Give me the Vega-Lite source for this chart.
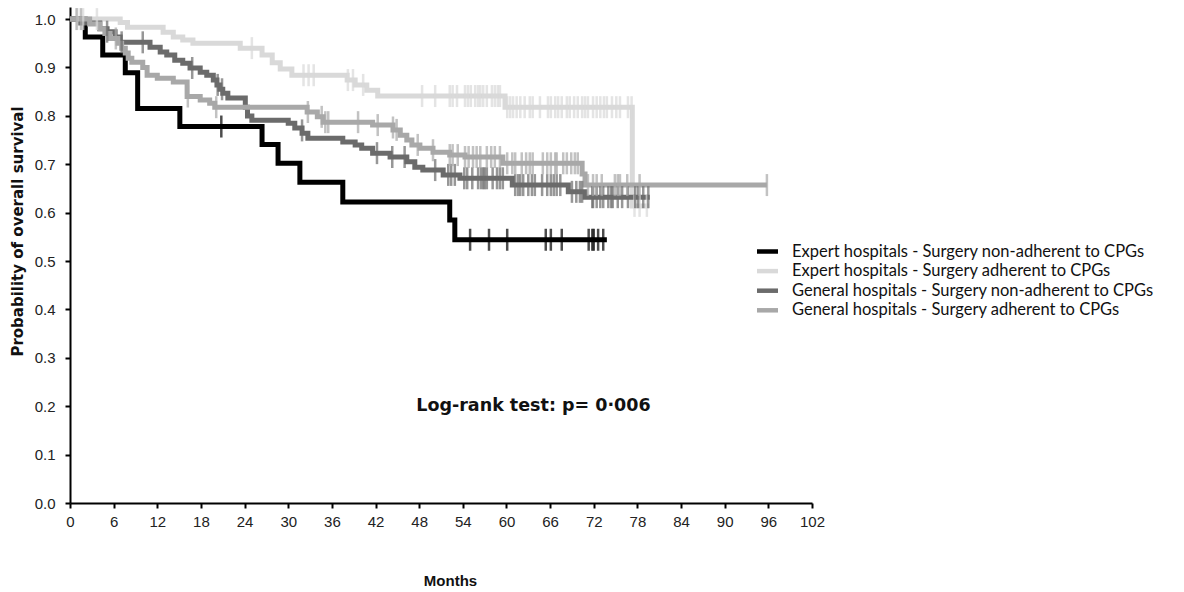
{
  "$schema": "https://vega.github.io/schema/vega-lite/v6.json",
  "width": 742,
  "height": 496,
  "autosize": "none",
  "padding": {"left": 70, "top": 7, "right": 372, "bottom": 89},
  "background": "white",
  "datasets": {
    "curves": [
      {"g":"A","t":0,"s":1},{"g":"A","t":2.1,"s":0.963},{"g":"A","t":4.5,"s":0.926},{"g":"A","t":7.6,"s":0.889},{"g":"A","t":9.3,"s":0.815},{"g":"A","t":15.1,"s":0.778},{"g":"A","t":26.4,"s":0.741},{"g":"A","t":28.6,"s":0.702},{"g":"A","t":31.6,"s":0.663},{"g":"A","t":37.5,"s":0.622},{"g":"A","t":52.2,"s":0.585},{"g":"A","t":52.9,"s":0.544},{"g":"A","t":73.8,"s":0.544},
      {"g":"B","t":0,"s":1},{"g":"B","t":6.9,"s":0.993},{"g":"B","t":7.9,"s":0.983},{"g":"B","t":12.8,"s":0.973},{"g":"B","t":14.2,"s":0.963},{"g":"B","t":15.5,"s":0.957},{"g":"B","t":16.9,"s":0.95},{"g":"B","t":23.4,"s":0.94},{"g":"B","t":26.4,"s":0.926},{"g":"B","t":27.8,"s":0.91},{"g":"B","t":28.9,"s":0.897},{"g":"B","t":30.5,"s":0.884},{"g":"B","t":38.1,"s":0.874},{"g":"B","t":39.2,"s":0.864},{"g":"B","t":40.8,"s":0.853},{"g":"B","t":42.3,"s":0.841},{"g":"B","t":59.8,"s":0.818},{"g":"B","t":77.3,"s":0.614},{"g":"B","t":79.6,"s":0.614},
      {"g":"C","t":0,"s":1},{"g":"C","t":1.4,"s":0.992},{"g":"C","t":4.1,"s":0.98},{"g":"C","t":5.1,"s":0.974},{"g":"C","t":6.2,"s":0.963},{"g":"C","t":6.9,"s":0.952},{"g":"C","t":11.0,"s":0.942},{"g":"C","t":12.4,"s":0.932},{"g":"C","t":13.3,"s":0.926},{"g":"C","t":14.4,"s":0.915},{"g":"C","t":15.5,"s":0.909},{"g":"C","t":16.5,"s":0.899},{"g":"C","t":17.9,"s":0.89},{"g":"C","t":18.8,"s":0.884},{"g":"C","t":19.7,"s":0.874},{"g":"C","t":20.2,"s":0.864},{"g":"C","t":20.6,"s":0.855},{"g":"C","t":21.0,"s":0.847},{"g":"C","t":21.7,"s":0.837},{"g":"C","t":24.1,"s":0.818},{"g":"C","t":24.4,"s":0.8},{"g":"C","t":25.0,"s":0.791},{"g":"C","t":30.0,"s":0.785},{"g":"C","t":30.9,"s":0.775},{"g":"C","t":31.9,"s":0.764},{"g":"C","t":32.7,"s":0.754},{"g":"C","t":37.5,"s":0.746},{"g":"C","t":39.2,"s":0.74},{"g":"C","t":40.1,"s":0.733},{"g":"C","t":41.6,"s":0.723},{"g":"C","t":44.0,"s":0.715},{"g":"C","t":46.3,"s":0.705},{"g":"C","t":47.4,"s":0.694},{"g":"C","t":48.5,"s":0.688},{"g":"C","t":51.3,"s":0.678},{"g":"C","t":53.6,"s":0.671},{"g":"C","t":60.8,"s":0.657},{"g":"C","t":68.5,"s":0.643},{"g":"C","t":70.8,"s":0.632},{"g":"C","t":79.7,"s":0.632},
      {"g":"D","t":0,"s":1},{"g":"D","t":2.7,"s":0.99},{"g":"D","t":4.1,"s":0.98},{"g":"D","t":4.8,"s":0.97},{"g":"D","t":5.5,"s":0.96},{"g":"D","t":6.6,"s":0.95},{"g":"D","t":7.1,"s":0.94},{"g":"D","t":7.6,"s":0.93},{"g":"D","t":8.0,"s":0.919},{"g":"D","t":8.5,"s":0.911},{"g":"D","t":10.0,"s":0.9},{"g":"D","t":10.6,"s":0.884},{"g":"D","t":12.0,"s":0.878},{"g":"D","t":14.2,"s":0.87},{"g":"D","t":16.1,"s":0.84},{"g":"D","t":17.9,"s":0.833},{"g":"D","t":19.2,"s":0.826},{"g":"D","t":19.9,"s":0.818},{"g":"D","t":32.6,"s":0.808},{"g":"D","t":34.0,"s":0.798},{"g":"D","t":34.8,"s":0.787},{"g":"D","t":41.6,"s":0.781},{"g":"D","t":44.4,"s":0.771},{"g":"D","t":45.4,"s":0.76},{"g":"D","t":46.3,"s":0.75},{"g":"D","t":47.0,"s":0.74},{"g":"D","t":48.1,"s":0.733},{"g":"D","t":49.9,"s":0.725},{"g":"D","t":52.2,"s":0.719},{"g":"D","t":54.3,"s":0.715},{"g":"D","t":59.5,"s":0.702},{"g":"D","t":70.4,"s":0.68},{"g":"D","t":70.8,"s":0.657},{"g":"D","t":95.8,"s":0.657}
    ],
    "censors": [
      {"g":"A","t":20.8,"s":0.778},{"g":"A","t":55.0,"s":0.544},{"g":"A","t":57.6,"s":0.544},{"g":"A","t":60.1,"s":0.544},{"g":"A","t":65.4,"s":0.544},{"g":"A","t":66.1,"s":0.544},{"g":"A","t":67.6,"s":0.544},{"g":"A","t":71.3,"s":0.544},{"g":"A","t":71.8,"s":0.544},{"g":"A","t":72.0,"s":0.544},{"g":"A","t":72.6,"s":0.544},{"g":"A","t":73.3,"s":0.544},
      {"g":"B","t":1.0,"s":1},{"g":"B","t":1.8,"s":1},{"g":"B","t":3.7,"s":1},{"g":"B","t":25.0,"s":0.94},{"g":"B","t":32.1,"s":0.884},{"g":"B","t":32.8,"s":0.884},{"g":"B","t":33.5,"s":0.884},{"g":"B","t":38.2,"s":0.874},{"g":"B","t":38.9,"s":0.874},{"g":"B","t":40.3,"s":0.864},
      {"g":"B","t":48.4,"s":0.841},{"g":"B","t":50.2,"s":0.841},{"g":"B","t":52.2,"s":0.841},{"g":"B","t":52.6,"s":0.841},{"g":"B","t":53.2,"s":0.841},{"g":"B","t":54.3,"s":0.841},{"g":"B","t":54.7,"s":0.841},{"g":"B","t":55.1,"s":0.841},{"g":"B","t":55.7,"s":0.841},{"g":"B","t":56.1,"s":0.841},{"g":"B","t":56.4,"s":0.841},{"g":"B","t":56.8,"s":0.841},{"g":"B","t":57.3,"s":0.841},{"g":"B","t":58.0,"s":0.841},{"g":"B","t":58.4,"s":0.841},{"g":"B","t":58.8,"s":0.841},{"g":"B","t":59.1,"s":0.841},
      {"g":"B","t":60.1,"s":0.818},{"g":"B","t":60.5,"s":0.818},{"g":"B","t":60.9,"s":0.818},{"g":"B","t":61.4,"s":0.818},{"g":"B","t":61.9,"s":0.818},{"g":"B","t":62.5,"s":0.818},{"g":"B","t":63.2,"s":0.818},{"g":"B","t":63.6,"s":0.818},{"g":"B","t":64.6,"s":0.818},{"g":"B","t":65.7,"s":0.818},{"g":"B","t":66.1,"s":0.818},{"g":"B","t":66.7,"s":0.818},{"g":"B","t":67.1,"s":0.818},{"g":"B","t":67.6,"s":0.818},{"g":"B","t":68.3,"s":0.818},{"g":"B","t":68.7,"s":0.818},{"g":"B","t":69.3,"s":0.818},{"g":"B","t":69.8,"s":0.818},{"g":"B","t":70.4,"s":0.818},{"g":"B","t":70.8,"s":0.818},{"g":"B","t":71.2,"s":0.818},{"g":"B","t":71.9,"s":0.818},{"g":"B","t":72.4,"s":0.818},{"g":"B","t":72.9,"s":0.818},{"g":"B","t":73.4,"s":0.818},{"g":"B","t":73.8,"s":0.818},{"g":"B","t":74.5,"s":0.818},{"g":"B","t":75.1,"s":0.818},{"g":"B","t":75.6,"s":0.818},{"g":"B","t":76.7,"s":0.818},{"g":"B","t":77.2,"s":0.818},{"g":"B","t":77.6,"s":0.614},{"g":"B","t":78.3,"s":0.614},{"g":"B","t":79.3,"s":0.614},
      {"g":"C","t":5.1,"s":0.974},{"g":"C","t":7.1,"s":0.952},{"g":"C","t":10.0,"s":0.952},{"g":"C","t":16.8,"s":0.899},{"g":"C","t":20.3,"s":0.864},{"g":"C","t":20.9,"s":0.855},{"g":"C","t":31.9,"s":0.77},{"g":"C","t":42.2,"s":0.723},{"g":"C","t":44.3,"s":0.715},{"g":"C","t":46.0,"s":0.715},{"g":"C","t":50.2,"s":0.688},{"g":"C","t":52.0,"s":0.678},{"g":"C","t":52.4,"s":0.678},{"g":"C","t":52.9,"s":0.678},
      {"g":"C","t":54.2,"s":0.671},{"g":"C","t":54.6,"s":0.671},{"g":"C","t":55.3,"s":0.671},{"g":"C","t":56.1,"s":0.671},{"g":"C","t":56.5,"s":0.671},{"g":"C","t":56.8,"s":0.671},{"g":"C","t":57.0,"s":0.671},{"g":"C","t":57.3,"s":0.671},{"g":"C","t":58.1,"s":0.671},{"g":"C","t":58.7,"s":0.671},{"g":"C","t":59.1,"s":0.671},{"g":"C","t":59.5,"s":0.671},
      {"g":"C","t":61.2,"s":0.657},{"g":"C","t":61.6,"s":0.657},{"g":"C","t":61.9,"s":0.657},{"g":"C","t":62.3,"s":0.657},{"g":"C","t":63.0,"s":0.657},{"g":"C","t":63.5,"s":0.657},{"g":"C","t":63.9,"s":0.657},{"g":"C","t":64.9,"s":0.657},{"g":"C","t":65.6,"s":0.657},{"g":"C","t":66.1,"s":0.657},{"g":"C","t":66.5,"s":0.657},{"g":"C","t":66.9,"s":0.657},{"g":"C","t":67.4,"s":0.657},
      {"g":"C","t":69.0,"s":0.643},{"g":"C","t":69.6,"s":0.643},{"g":"C","t":70.1,"s":0.643},{"g":"C","t":70.4,"s":0.643},
      {"g":"C","t":71.8,"s":0.632},{"g":"C","t":71.9,"s":0.632},{"g":"C","t":72.4,"s":0.632},{"g":"C","t":72.9,"s":0.632},{"g":"C","t":73.3,"s":0.632},{"g":"C","t":74.0,"s":0.632},{"g":"C","t":74.4,"s":0.632},{"g":"C","t":74.6,"s":0.632},{"g":"C","t":75.3,"s":0.632},{"g":"C","t":75.9,"s":0.632},{"g":"C","t":76.7,"s":0.632},{"g":"C","t":77.7,"s":0.632},{"g":"C","t":78.1,"s":0.632},{"g":"C","t":78.8,"s":0.632},{"g":"C","t":79.5,"s":0.632},
      {"g":"D","t":0.9,"s":1},{"g":"D","t":1.5,"s":1},{"g":"D","t":6.3,"s":0.96},{"g":"D","t":16.2,"s":0.84},{"g":"D","t":20.1,"s":0.818},{"g":"D","t":32.7,"s":0.808},{"g":"D","t":34.6,"s":0.798},{"g":"D","t":35.1,"s":0.787},{"g":"D","t":35.5,"s":0.787},{"g":"D","t":39.6,"s":0.787},{"g":"D","t":42.3,"s":0.781},{"g":"D","t":44.4,"s":0.776},{"g":"D","t":44.9,"s":0.771},{"g":"D","t":47.8,"s":0.74},{"g":"D","t":49.9,"s":0.729},{"g":"D","t":52.2,"s":0.719},{"g":"D","t":52.6,"s":0.719},{"g":"D","t":53.3,"s":0.719},
      {"g":"D","t":54.3,"s":0.715},{"g":"D","t":54.8,"s":0.715},{"g":"D","t":55.4,"s":0.715},{"g":"D","t":55.9,"s":0.715},{"g":"D","t":56.4,"s":0.715},{"g":"D","t":57.3,"s":0.715},{"g":"D","t":57.9,"s":0.715},{"g":"D","t":58.4,"s":0.715},{"g":"D","t":59.1,"s":0.715},
      {"g":"D","t":60.1,"s":0.702},{"g":"D","t":60.8,"s":0.702},{"g":"D","t":61.2,"s":0.702},{"g":"D","t":62.1,"s":0.702},{"g":"D","t":62.7,"s":0.702},{"g":"D","t":63.2,"s":0.702},{"g":"D","t":63.6,"s":0.702},{"g":"D","t":65.0,"s":0.702},{"g":"D","t":65.6,"s":0.702},{"g":"D","t":66.1,"s":0.702},{"g":"D","t":66.7,"s":0.702},{"g":"D","t":66.9,"s":0.702},{"g":"D","t":67.8,"s":0.702},{"g":"D","t":68.3,"s":0.702},{"g":"D","t":68.9,"s":0.702},{"g":"D","t":69.4,"s":0.702},{"g":"D","t":69.8,"s":0.702},
      {"g":"D","t":71.2,"s":0.657},{"g":"D","t":71.9,"s":0.657},{"g":"D","t":72.4,"s":0.657},{"g":"D","t":73.1,"s":0.657},{"g":"D","t":74.9,"s":0.657},{"g":"D","t":75.3,"s":0.657},{"g":"D","t":75.6,"s":0.657},{"g":"D","t":76.6,"s":0.657},{"g":"D","t":78.3,"s":0.657},{"g":"D","t":95.8,"s":0.657}
    ]
  },
  "layer": [
    {
      "data": {"name": "curves"},
      "mark": {"type": "line", "interpolate": "step-after", "strokeWidth": 5, "strokeCap": "butt"},
      "encoding": {
        "x": {"field": "t", "type": "quantitative", "scale": {"domain": [0, 102], "nice": false, "zero": false},
          "axis": {"values": [0,6,12,18,24,30,36,42,48,54,60,66,72,78,84,90,96,102], "labelFlush": false, "labelOverlap": false, "title": "Months", "titlePadding": 44, "labelPadding": 6, "titleFontSize": 15, "titleFont": "Liberation Sans", "titleX": 380}},
        "y": {"field": "s", "type": "quantitative", "scale": {"domain": [0, 1.025], "nice": false},
          "axis": {"values": [0,0.1,0.2,0.3,0.4,0.5,0.6,0.7,0.8,0.9,1.0], "format": ".1f", "labelFlush": false, "labelOverlap": false, "title": "Probability of overall survival", "titlePadding": 9, "labelPadding": 10, "titleFont": "DejaVu Sans", "titleFontSize": 15, "titleY": 224}},
        "color": {"field": "g", "type": "nominal",
          "scale": {"domain": ["A","B","C","D"], "range": ["#000000","#d9d9d9","#6b6b6b","#a8a8a8"]},
          "legend": {
            "title": null, "orient": "none", "legendX": 689, "legendY": 236, "padding": 0,
            "symbolType": "M-1.75,0H1.75", "symbolSize": 144, "symbolStrokeWidth": 4.5,
            "labelFont": "Lato", "labelFontSize": 16.5, "labelColor": "#111", "labelOffset": 16, "rowPadding": 0.6,
            "labelLimit": 600,
            "labelExpr": "{'A':'Expert hospitals - Surgery non-adherent to CPGs','B':'Expert hospitals - Surgery adherent to CPGs','C':'General hospitals - Surgery non-adherent to CPGs','D':'General hospitals - Surgery adherent to CPGs'}[datum.label]"
          }}
      }
    },
    {
      "data": {"name": "censors"},
      "mark": {"type": "tick", "orient": "vertical", "size": 22, "thickness": 2.5},
      "encoding": {
        "x": {"field": "t", "type": "quantitative"},
        "y": {"field": "s", "type": "quantitative"},
        "color": {"field": "g", "type": "nominal", "legend": null}
      }
    },
    {
      "data": {"values": [{"t": 47.6, "s": 0.2, "label": "Log-rank test: p= 0·006"}]},
      "mark": {"type": "text", "align": "left", "baseline": "middle", "font": "DejaVu Sans", "fontWeight": "bold", "fontSize": 17.5, "color": "#111"},
      "encoding": {
        "x": {"field": "t", "type": "quantitative"},
        "y": {"field": "s", "type": "quantitative"},
        "text": {"field": "label"}
      }
    }
  ],
  "config": {
    "view": {"stroke": null},
    "axis": {
      "grid": false, "domainColor": "#000", "domainWidth": 2, "tickColor": "#000", "tickWidth": 2, "tickSize": 5,
      "labelFont": "Liberation Sans", "labelFontSize": 15, "labelColor": "#222",
      "titleFontWeight": "bold", "titleColor": "#111"
    }
  }
}
